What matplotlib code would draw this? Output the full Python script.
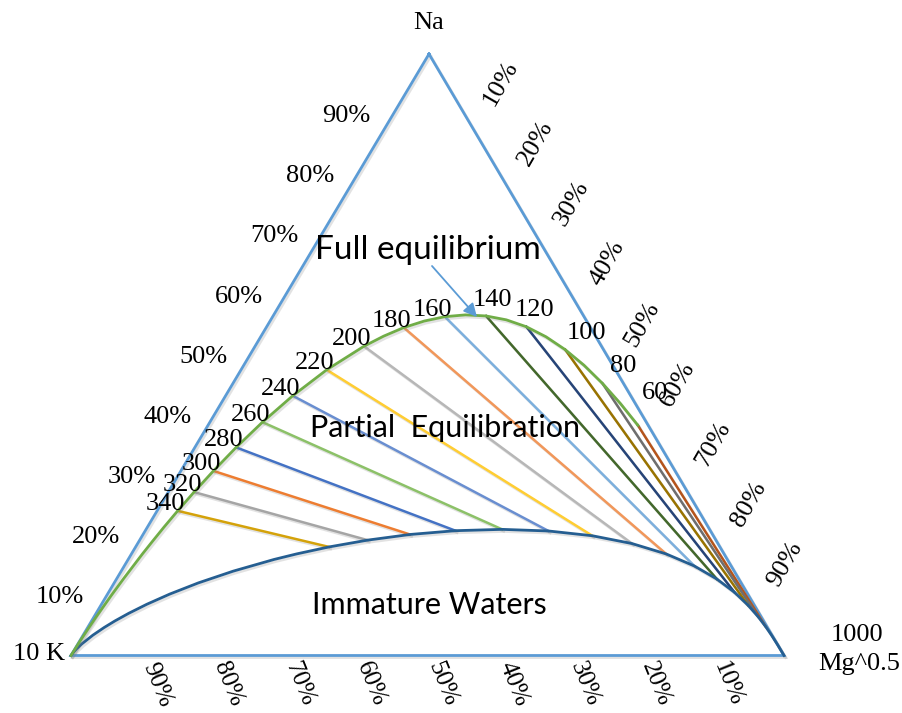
import matplotlib
matplotlib.use('Agg')
import matplotlib.pyplot as plt
from matplotlib import patheffects as pe
import numpy as np

# Na-K-Mg geothermometer (Na/1000, K/100, Mg^0.5), values in percent
temps = [60, 80, 100, 120, 140, 160, 180, 200, 220, 240, 260, 280, 300, 320, 340]

# full equilibrium points at the labelled temperatures
eq_na = [38.27, 45.25, 50.85, 54.65, 56.45, 56.33, 54.52, 51.42, 47.50, 43.18, 38.80, 34.60, 30.69, 27.17, 24.05]
eq_k = [1.44, 2.94, 5.37, 8.92, 13.68, 19.52, 26.18, 33.30, 40.48, 47.39, 53.83, 59.61, 64.74, 69.21, 73.06]
eq_mg = [60.29, 51.81, 43.78, 36.42, 29.87, 24.15, 19.30, 15.28, 12.02, 9.42, 7.38, 5.79, 4.57, 3.62, 2.89]

# extra points on the full equilibrium curve (70..190 C, odd steps)
eq_mid_t = [70, 90, 110, 130, 150, 170, 190]
eq_mid_na = [41.90, 48.25, 52.99, 55.81, 56.63, 55.60, 53.09]
eq_mid_k = [2.09, 4.02, 7.00, 11.16, 16.48, 22.78, 29.72]
eq_mid_mg = [56.01, 47.72, 40.01, 33.04, 26.89, 21.62, 17.19]

# high temperature end of the full equilibrium curve, down to the 10K corner
eq_tail_na = [21.31, 18.93, 16.87, 12.83, 9.99, 6.48, 4.55, 2.15, 0.0]
eq_tail_k = [76.36, 79.18, 81.59, 86.21, 89.38, 93.21, 95.28, 97.80, 100.0]
eq_tail_mg = [2.32, 1.89, 1.54, 0.97, 0.64, 0.31, 0.18, 0.05, 0.0]

# where each partial equilibration line meets the immature waters curve
im_na = [4.80, 6.48, 8.39, 10.50, 12.70, 14.87, 16.88, 18.61, 19.91, 20.70, 20.97, 20.75, 20.12, 19.18, 18.05]
im_k = [0.18, 0.42, 0.89, 1.71, 3.08, 5.15, 8.11, 12.05, 16.97, 22.72, 29.09, 35.75, 42.44, 48.85, 54.82]
im_mg = [95.02, 93.10, 90.72, 87.79, 84.22, 79.98, 75.01, 69.34, 63.12, 56.58, 49.94, 43.50, 37.44, 31.97, 27.13]

# rest of the immature waters curve towards the two bottom corners
im_left_na = [16.89, 15.97, 14.02, 12.07, 10.21, 8.51, 7.02, 5.74, 4.66, 3.38, 1.95, 1.11, 0.63, 0.0]
im_left_k = [59.94, 63.56, 70.28, 76.13, 81.07, 85.13, 88.40, 90.99, 93.02, 95.25, 97.49, 98.66, 99.28, 100.0]
im_left_mg = [23.17, 20.47, 15.70, 11.80, 8.72, 6.35, 4.58, 3.27, 2.32, 1.37, 0.56, 0.23, 0.09, 0.0]
im_right_na = [3.36, 1.74, 0.60, 0.0]
im_right_k = [0.07, 0.01, 0.0, 0.0]
im_right_mg = [96.57, 98.25, 99.40, 100.0]

line_colors = ['#B5541B', '#6E6E6E', '#997300', '#264478', '#43682B', '#7CAFDD', '#F1975A',
               '#B7B7B7', '#FFCD33', '#698ED0', '#8CC168', '#4472C4', '#ED7D31', '#A5A5A5', '#D4A20A']

left_ticks = [10, 20, 30, 40, 50, 60, 70, 80, 90]
right_ticks = [10, 20, 30, 40, 50, 60, 70, 80, 90]
bottom_ticks = [90, 80, 70, 60, 50, 40, 30, 20, 10]

# corners on the canvas
NA_XY = (429.0, 54.0)
K_XY = (71.0, 655.5)
MG_XY = (784.0, 655.5)


def tern(na, k, mg):
    na, k, mg = (np.asarray(v, dtype=float) for v in (na, k, mg))
    tot = na + k + mg
    x = (na * NA_XY[0] + k * K_XY[0] + mg * MG_XY[0]) / tot
    y = (na * NA_XY[1] + k * K_XY[1] + mg * MG_XY[1]) / tot
    return x, y


serif = ['Liberation Serif', 'DejaVu Serif']
sans = ['Lato', 'DejaVu Sans']
shadow = [pe.SimpleLineShadow(offset=(1.2, -1.5), shadow_color='#7f7f7f', alpha=0.22), pe.Normal()]

fig = plt.figure(figsize=(9.02, 7.13), dpi=100)
ax = fig.add_axes([0, 0, 1, 1])
ax.set_xlim(0, 902)
ax.set_ylim(713, 0)
ax.axis('off')

# triangle frame
tx, ty = tern([100, 0, 0, 100], [0, 100, 0, 0], [0, 0, 100, 0])
ax.plot(tx, ty, color='#5B9BD5', lw=2.0, solid_joinstyle='miter', zorder=2, path_effects=shadow)

# partial equilibration lines
for i in range(len(temps)):
    lx, ly = tern([eq_na[i], im_na[i]], [eq_k[i], im_k[i]], [eq_mg[i], im_mg[i]])
    ax.plot(lx, ly, color=line_colors[i], lw=1.8, zorder=3, path_effects=shadow)

# immature waters curve
cx, cy = tern(im_left_na[::-1] + im_na[::-1] + im_right_na,
              im_left_k[::-1] + im_k[::-1] + im_right_k,
              im_left_mg[::-1] + im_mg[::-1] + im_right_mg)
ax.plot(cx, cy, color='#255E91', lw=2.0, zorder=4, path_effects=shadow)

# full equilibrium curve, ordered by temperature
all_t = temps + eq_mid_t
order = np.argsort(all_t)
fna = np.array(eq_na + eq_mid_na)[order]
fk = np.array(eq_k + eq_mid_k)[order]
fmg = np.array(eq_mg + eq_mid_mg)[order]
fx, fy = tern(np.r_[fna, eq_tail_na], np.r_[fk, eq_tail_k], np.r_[fmg, eq_tail_mg])
ax.plot(fx, fy, color='#70AD47', lw=2.0, zorder=4, path_effects=shadow)

# temperature labels
px, py = tern(eq_na, eq_k, eq_mg)
for i, t in enumerate(temps):
    if t >= 160:
        dx, dy = -12, -7
    elif t == 140:
        dx, dy = 6, -16
    elif t == 120:
        dx, dy = 8, -17
    elif t == 60:
        dx, dy = 17, -32
    else:
        dx, dy = 21, -17
    ax.text(px[i] + dx, py[i] + dy, str(t), family=serif, fontsize=19,
            ha='center', va='center', zorder=6)

# percentage labels on the three sides
for v in left_ticks:
    x, y = tern(v, 100 - v, 0)
    ax.text(x - 47, y + 2, f'{v}%', family=serif, fontsize=19, ha='center', va='center')
for v in right_ticks:
    x, y = tern(100 - v, 0, v)
    ax.text(x + 36, y - 31, f'{v}%', family=serif, fontsize=19, rotation=60,
            ha='center', va='center')
for v in bottom_ticks:
    x, y = tern(0, v, 100 - v)
    ax.text(x + 15, y + 29, f'{v}%', family=serif, fontsize=18, rotation=-68,
            ha='center', va='center')

# corner names
ax.text(429, 23, 'Na', family=serif, fontsize=19, ha='center', va='center')
ax.text(65, 654, '10 K', family=serif, fontsize=19, ha='right', va='center')
ax.text(857, 635, '1000', family=serif, fontsize=19, ha='center', va='center')
ax.text(859, 664, 'Mg^0.5', family=serif, fontsize=19, ha='center', va='center')

# field names
ax.text(315, 250, 'Full equilibrium', family=sans, fontsize=24, ha='left', va='center')
ax.text(310, 428, 'Partial  Equilibration', family=sans, fontsize=22, ha='left', va='center')
ax.text(312, 605, 'Immature Waters', family=sans, fontsize=22, ha='left', va='center')
ax.annotate('', xy=(477, 317), xytext=(432, 266),
            arrowprops=dict(arrowstyle='-|>', color='#5B9BD5', lw=1.3, mutation_scale=20,
                            shrinkA=0, shrinkB=0), zorder=7)

fig.savefig('out.png', dpi=100)
